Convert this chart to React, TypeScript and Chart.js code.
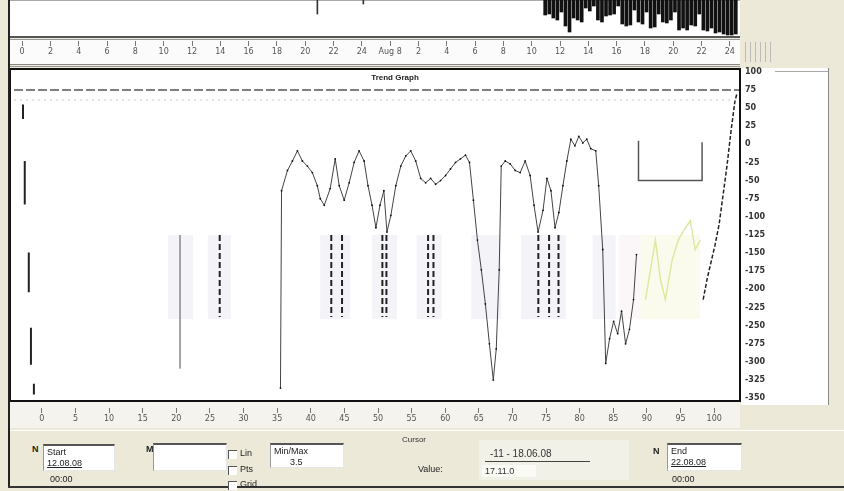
import React, { useEffect, useLayoutEffect, useRef } from "react";
import { Chart, registerables } from "chart.js";
Chart.register(...registerables);

// ---------- data ----------
const topTickLabels = ["0", "2", "4", "6", "8", "10", "12", "14", "16", "18", "20", "22", "24", "Aug 8", "2", "4", "6", "8", "10", "12", "14", "16", "18", "20", "22", "24"];
const bottomTickLabels = ["0", "5", "10", "15", "20", "25", "30", "35", "40", "45", "50", "55", "60", "65", "70", "75", "80", "85", "90", "95", "100"];

const yMin = -350;
const yMax = 100;
const yStep = 25;
const xMin = 0;
const xMax = 54;

const spikeHours = [39.7, 40.0, 40.3, 40.6, 40.9, 41.2, 41.5, 41.8, 42.1, 42.4, 42.7, 43.0, 43.3, 43.6, 43.9, 44.2, 44.5, 44.8, 45.1, 45.4, 45.7, 46.0, 46.3, 46.6, 46.9, 47.2, 47.5, 47.8, 48.1, 48.4, 48.7, 49.0, 49.3, 49.6, 49.9, 50.2, 50.5, 50.8, 51.1, 51.4, 51.7, 52.0, 52.3, 52.6, 52.9, 53.2, 53.5, 53.8];
const spikeDepths = [15, 14, 18, 20, 12, 26, 32, 18, 20, 22, 8, 11, 6, 20, 22, 16, 15, 14, 6, 24, 26, 25, 10, 22, 24, 12, 28, 27, 14, 22, 23, 20, 12, 30, 28, 30, 25, 26, 14, 30, 31, 28, 33, 32, 34, 35, 35, 34];
const smallSpikeHours = [22.7, 26.1];
const smallSpikeDepths = [14, 4];

const mainHours = [19.82, 19.9, 20.34, 20.71, 21.08, 21.45, 21.82, 22.19, 22.56, 22.78, 23.08, 23.52, 23.89, 24.19, 24.56, 24.93, 25.3, 25.67, 26.04, 26.33, 26.63, 26.92, 27.22, 27.51, 27.74, 28.03, 28.4, 28.77, 29.14, 29.51, 29.88, 30.25, 30.62, 30.99, 31.36, 31.73, 32.1, 32.47, 32.84, 33.21, 33.58, 33.88, 34.17, 34.47, 34.76, 35.06, 35.36, 35.65, 35.87, 36.09, 36.24, 36.54, 36.91, 37.28, 37.65, 38.02, 38.39, 38.68, 38.98, 39.35, 39.64, 39.94, 40.24, 40.53, 40.83, 41.12, 41.42, 41.72, 42.01, 42.31, 42.6, 42.9, 43.27, 43.49, 43.79, 44.01, 44.3, 44.6, 44.9, 45.19, 45.49, 45.78, 46.08, 46.3];
const mainValues = [-336, -64, -36, -23, -9, -23, -30, -39, -57, -75, -84, -61, -20, -57, -77, -53, -25, -9, -23, -57, -84, -115, -84, -64, -121, -98, -57, -30, -16, -9, -23, -47, -53, -47, -55, -50, -43, -34, -25, -20, -15, -25, -77, -132, -173, -220, -275, -325, -282, -173, -30, -23, -27, -36, -39, -23, -43, -84, -121, -91, -47, -64, -115, -94, -57, -23, 7, -2, 11, 2, 7, -6, -9, -57, -145, -302, -268, -244, -261, -230, -275, -255, -214, -152];

const tailHours = [51.26, 51.55, 51.85, 52.14, 52.44, 52.74, 53.03, 53.33, 53.62, 53.77];
const tailValues = [-214, -186, -162, -139, -111, -70, -30, 18, 59, 70];

const leftHours = [0.67, 0.67, 0.67, 0.8, 0.8, 0.8, 1.1, 1.1, 1.1, 1.26, 1.26, 1.26, 1.48, 1.48];
const leftValues = [55, 35, null, -23, -83, null, -149, -204, null, -253, -304, null, -330, -345];

const markerHours = [15.3, 23.6, 24.4, 27.4, 27.7, 30.8, 31.2, 39.0, 39.8, 40.5];
const markerTop = -125;
const markerBottom = -238;
const guideHours = [12.35];
const guideTop = -125;
const guideBottom = -309;

const bracketHours = [46.45, 46.45, 51.18, 51.18];
const bracketValues = [5, -50, -50, 3];

const greenHours = [46.97, 47.34, 47.71, 48.08, 48.45, 48.96, 49.41, 49.85, 50.3, 50.67, 51.04];
const greenValues = [-214, -173, -132, -186, -214, -159, -132, -118, -105, -145, -132];

const limitValue = 75;
const limitValue2 = 61;

const bandStarts = [11.46, 14.42, 22.78, 26.63, 29.96, 34.02, 37.72, 43.05, 44.97, 46.6];
const bandEnds = [13.31, 16.12, 25.0, 28.48, 31.8, 36.24, 41.05, 44.75, 46.6, 51.04];
const bandTop = -125;
const bandBottom = -241;
const bandColors = ["rgba(220,222,235,0.35)", "rgba(220,222,235,0.35)", "rgba(220,222,235,0.35)", "rgba(220,222,235,0.35)", "rgba(220,222,235,0.35)", "rgba(220,222,235,0.35)", "rgba(220,222,235,0.35)", "rgba(220,222,235,0.35)", "rgba(242,228,232,0.3)", "rgba(244,246,215,0.45)"];

// ---------- helpers ----------
const pts = (xs: number[], ys: (number | null)[]) => xs.map((x, i) => ({ x, y: ys[i] }));
const vSegs = (xs: number[], top: number, bottom: number) => {
  const out: { x: number; y: number | null }[] = [];
  xs.forEach((x) => {
    out.push({ x, y: top }, { x, y: bottom }, { x, y: null });
  });
  return out;
};

const bandPlugin = {
  id: "bands",
  beforeDatasetsDraw(chart: any) {
    const { ctx, scales } = chart;
    const x = scales.x;
    const y = scales.y;
    ctx.save();
    bandStarts.forEach((s, i) => {
      const x0 = x.getPixelForValue(s);
      const x1 = x.getPixelForValue(bandEnds[i]);
      const y0 = y.getPixelForValue(bandTop);
      const y1 = y.getPixelForValue(bandBottom);
      ctx.fillStyle = bandColors[i];
      ctx.fillRect(x0, y0, x1 - x0, y1 - y0);
    });
    ctx.restore();
  },
};

function ChartBox({ make, style }: { make: () => any; style: React.CSSProperties }) {
  const ref = useRef<HTMLCanvasElement>(null);
  useEffect(() => {
    const chart = new Chart(ref.current!, make());
    return () => chart.destroy();
  }, []);
  return (
    <div style={{ position: "absolute", ...style }}>
      <canvas ref={ref} />
    </div>
  );
}

const base = {
  animation: false,
  responsive: true,
  maintainAspectRatio: false,
  events: [],
  plugins: { legend: { display: false }, tooltip: { enabled: false }, title: { display: false } },
};

const spikeConfig = () => ({
  type: "bar",
  data: {
    datasets: [
      { data: pts(spikeHours, spikeDepths), backgroundColor: "#111", barThickness: 3, borderWidth: 0 },
      { data: pts(smallSpikeHours, smallSpikeDepths), backgroundColor: "#333", barThickness: 1, borderWidth: 0 },
    ],
  },
  options: {
    ...base,
    layout: { padding: 0 },
    scales: {
      x: { type: "linear", min: xMin, max: xMax, offset: false, display: false },
      y: { min: 0, max: 36, reverse: true, display: false },
    },
  },
});

const stripConfig = (labels: string[]) => () => ({
  type: "line",
  data: { labels, datasets: [] },
  options: {
    ...base,
    layout: { padding: 0 },
    scales: {
      x: {
        offset: true,
        grid: { display: true, drawOnChartArea: false, tickLength: 5, color: "#777", offset: false },
        border: { display: false },
        ticks: { font: { size: 8, family: "DejaVu Sans" }, color: "#555", autoSkip: false, maxRotation: 0, padding: 1 },
      },
      y: { display: false },
    },
  },
});

const lineDs = (data: any[], color: string, width: number, dash: number[] = []) => ({
  type: "line",
  data,
  borderColor: color,
  backgroundColor: color,
  borderWidth: width,
  borderDash: dash,
  pointRadius: 0,
  spanGaps: false,
  tension: 0,
});

const mainConfig = () => ({
  type: "line",
  data: {
    datasets: [
      lineDs([{ x: xMin, y: limitValue }, { x: xMax, y: limitValue }], "#555", 1.5, [9, 3]),
      lineDs([{ x: xMin, y: limitValue2 }, { x: xMax, y: limitValue2 }], "#ccc", 1, [2, 4]),
      lineDs(vSegs(guideHours, guideTop, guideBottom), "#999", 1),
      lineDs(vSegs(markerHours, markerTop, markerBottom), "#222", 2, [6, 3]),
      lineDs(pts(leftHours, leftValues), "#222", 2),
      lineDs(pts(greenHours, greenValues), "#dfe8a0", 1.5),
      lineDs(pts(bracketHours, bracketValues), "#555", 1.5),
      { ...lineDs(pts(mainHours, mainValues), "#444", 1), pointRadius: 0.9, pointBackgroundColor: "#111", pointBorderWidth: 0 },
      lineDs(pts(tailHours, tailValues), "#222", 1.5, [4, 2]),
    ],
  },
  options: {
    ...base,
    layout: { padding: { top: 8, bottom: 8, left: 0, right: 0 } },
    scales: {
      x: { type: "linear", min: xMin, max: xMax, display: false },
      y: {
        position: "right",
        min: yMin,
        max: yMax,
        grid: { display: false, drawTicks: false },
        border: { display: false },
        afterFit: (scale: any) => {
          scale.width = 35;
        },
        ticks: {
          stepSize: yStep,
          autoSkip: false,
          padding: 5,
          color: "#333",
          font: { size: 8, weight: "bold", family: "DejaVu Sans" },
        },
      },
    },
  },
  plugins: [bandPlugin],
});

// ---------- UI pieces ----------
const abs = (s: React.CSSProperties): React.CSSProperties => ({ position: "absolute", ...s });
const field: React.CSSProperties = {
  position: "absolute",
  background: "#fff",
  borderTop: "2px solid #555",
  borderLeft: "1px solid #999",
  borderRight: "1px solid #e6e6e6",
  borderBottom: "1px solid #e6e6e6",
  boxSizing: "border-box",
  fontSize: 9,
  color: "#222",
  padding: "1px 3px",
  lineHeight: "11px",
};
const check = (top: number, label: string) => (
  <>
    <div style={abs({ left: 228, top, width: 8, height: 8, background: "#fff", borderTop: "1px solid #555", borderLeft: "1px solid #555" })} />
    <div style={abs({ left: 240, top: top - 2, fontSize: 9, color: "#222" })}>{label}</div>
  </>
);

export default function App() {
  useLayoutEffect(() => {
    document.body.style.margin = "0";
  }, []);
  return (
    <div style={{ position: "relative", width: 844, height: 491, background: "#ECE9D8", overflow: "hidden", fontFamily: '"Liberation Sans", Arial, sans-serif' }}>
      {/* top panel */}
      <div style={abs({ left: 10, top: 0, width: 730, height: 36, background: "#fff", borderTop: "1px solid #aaa", boxSizing: "border-box" })} />
      <ChartBox make={spikeConfig} style={{ left: 10, top: 0, width: 730, height: 36 }} />
      <div style={abs({ left: 10, top: 36, width: 730, height: 2, background: "#555" })} />
      <div style={abs({ left: 10, top: 39, width: 730, height: 1, background: "#999" })} />
      {/* top tick strip */}
      <div style={abs({ left: 10, top: 40, width: 730, height: 24, background: "#fbfbfb" })} />
      <ChartBox make={stripConfig(topTickLabels)} style={{ left: 8, top: 26, width: 736, height: 30 }} />
      <div style={abs({ left: 10, top: 64, width: 730, height: 1, background: "#888" })} />
      <div style={abs({ left: 10, top: 66, width: 730, height: 1, background: "#999" })} />
      {/* small ruler at right of strip */}
      {[0, 1, 2, 3, 4, 5].map((i) => (
        <div key={i} style={abs({ left: 745 + i * 5, top: 42, width: 1, height: 20, background: "#bbb" })} />
      ))}
      {/* right white column */}
      <div style={abs({ left: 741, top: 68, width: 88, height: 337, background: "#fff", borderRight: "1px solid #888", boxSizing: "border-box" })} />
      <div style={abs({ left: 775, top: 71, width: 53, height: 1, background: "#aaa" })} />
      {/* main box */}
      <div style={abs({ left: 10, top: 69, width: 730, height: 332, background: "#fff" })} />
      <ChartBox make={mainConfig} style={{ left: 10, top: 62, width: 765, height: 346 }} />
      <div style={abs({ left: 9, top: 68, width: 732, height: 334, border: "2px solid #111", boxSizing: "border-box" })} />
      <div style={abs({ left: 340, top: 73, width: 110, textAlign: "center", fontSize: 8, fontWeight: "bold", color: "#222" })}>Trend Graph</div>
      {/* bottom tick strip */}
      <div style={abs({ left: 10, top: 402, width: 730, height: 26, background: "#f4f3ee" })} />
      <ChartBox make={stripConfig(bottomTickLabels)} style={{ left: 25, top: 393, width: 706, height: 30 }} />
      {/* left border */}
      <div style={abs({ left: 8, top: 0, width: 2, height: 488, background: "#222" })} />
      {/* form area */}
      <div style={abs({ left: 10, top: 430, width: 834, height: 1, background: "#fff" })} />
      <div style={abs({ left: 8, top: 486, width: 836, height: 2, background: "#333" })} />

      <div style={abs({ left: 32, top: 444, fontSize: 9, fontWeight: "bold", color: "#222" })}>N</div>
      <div style={{ ...field, left: 43, top: 444, width: 72, height: 27 }}>
        <div>Start</div>
        <div style={{ textDecoration: "underline" }}>12.08.08</div>
      </div>
      <div style={abs({ left: 50, top: 474, fontSize: 9, color: "#222" })}>00:00</div>

      <div style={abs({ left: 146, top: 444, fontSize: 9, fontWeight: "bold", color: "#222" })}>M</div>
      <div style={{ ...field, left: 153, top: 443, width: 74, height: 28 }} />

      {check(450, "Lin")}
      {check(466, "Pts")}
      {check(481, "Grid")}

      <div style={{ ...field, left: 270, top: 443, width: 74, height: 25 }}>
        <div>Min/Max</div>
        <div style={{ paddingLeft: 16 }}>3.5</div>
      </div>

      <div style={abs({ left: 402, top: 435, fontSize: 8, color: "#333" })}>Cursor</div>
      <div style={abs({ left: 418, top: 464, fontSize: 9, color: "#222" })}>Value:</div>

      <div style={abs({ left: 479, top: 440, width: 150, height: 40, background: "#f2f1e8" })} />
      <div style={abs({ left: 490, top: 448, fontSize: 10, color: "#333" })}>-11 - 18.06.08</div>
      <div style={abs({ left: 485, top: 461, width: 105, height: 1, background: "#444" })} />
      <div style={abs({ left: 482, top: 465, width: 54, height: 12, background: "#fbfbf6", fontSize: 9, color: "#333", paddingLeft: 3, boxSizing: "border-box", lineHeight: "12px" })}>17.11.0</div>

      <div style={abs({ left: 653, top: 446, fontSize: 9, fontWeight: "bold", color: "#222" })}>N</div>
      <div style={{ ...field, left: 667, top: 443, width: 75, height: 28 }}>
        <div>End</div>
        <div style={{ textDecoration: "underline" }}>22.08.08</div>
      </div>
      <div style={abs({ left: 672, top: 474, fontSize: 9, color: "#222" })}>00:00</div>
    </div>
  );
}
